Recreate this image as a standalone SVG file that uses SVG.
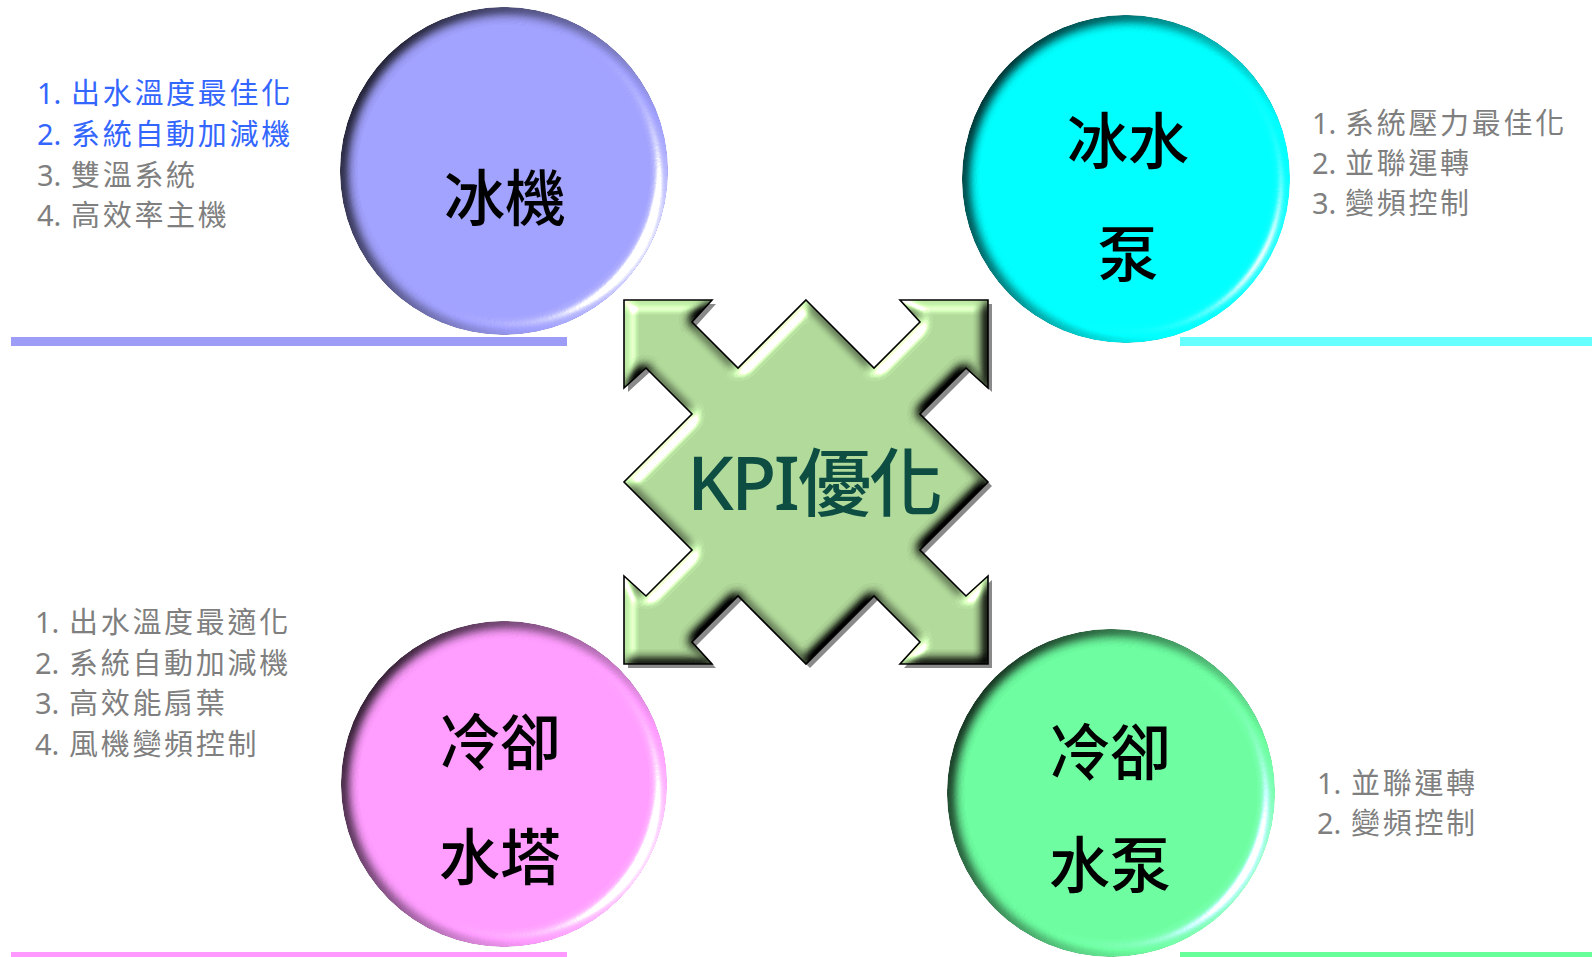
<svg xmlns="http://www.w3.org/2000/svg" width="1592" height="957" viewBox="0 0 1592 957">
  <defs>
    <style>
      .list { font-family: 'Noto Sans', 'Noto Sans CJK TC', sans-serif; font-size: 29px; }
      .cjk { letter-spacing: 2.7px; }
      .blue { fill: #3366ff; }
      .gray { fill: #7f7f7f; }
      .label { font-family: 'Noto Sans CJK TC', 'Noto Sans', sans-serif; font-size: 61px; font-weight: 500; fill: #000; text-anchor: middle; dominant-baseline: central; }
      .kpi { font-family: 'Noto Sans', 'Noto Sans CJK TC', sans-serif; font-size: 74px; font-weight: 500; fill: #0d4d42; dominant-baseline: central; }
      .arrow-outline { stroke: #000; stroke-width: 1.6; stroke-linejoin: miter; }
    </style>
    <!-- pillow bevel for the round buttons, lit from the lower right -->
    <filter id="button" x="-10%" y="-10%" width="120%" height="120%" color-interpolation-filters="sRGB">
      <feGaussianBlur in="SourceAlpha" stdDeviation="7" result="h"/>
      <feDiffuseLighting in="h" surfaceScale="9" diffuseConstant="1" lighting-color="#ffffff" result="d">
        <feDistantLight azimuth="30" elevation="58"/>
      </feDiffuseLighting>
      <feComposite in="SourceGraphic" in2="d" operator="arithmetic" k1="1.18" k2="0" k3="0" k4="0" result="sh"/>
      <feSpecularLighting in="h" surfaceScale="9" specularConstant="0.9" specularExponent="35" lighting-color="#ffffff" result="s">
        <feDistantLight azimuth="30" elevation="32"/>
      </feSpecularLighting>
      <feComposite in="s" in2="SourceAlpha" operator="in" result="s2"/>
      <feComposite in="sh" in2="s2" operator="arithmetic" k1="0" k2="1" k3="1" k4="0" result="o"/>
      <feComposite in="o" in2="SourceAlpha" operator="in"/>
    </filter>
    <!-- bevel for the four-way arrow, lit from the upper left -->
    <filter id="bevel" x="-5%" y="-5%" width="110%" height="110%" color-interpolation-filters="sRGB">
      <feGaussianBlur in="SourceAlpha" stdDeviation="6" result="h"/>
      <feDiffuseLighting in="h" surfaceScale="9" diffuseConstant="1" lighting-color="#ffffff" result="d">
        <feDistantLight azimuth="225" elevation="50"/>
      </feDiffuseLighting>
      <feComposite in="SourceGraphic" in2="d" operator="arithmetic" k1="1.3" k2="0" k3="0" k4="0" result="sh"/>
      <feSpecularLighting in="h" surfaceScale="9" specularConstant="0.7" specularExponent="30" lighting-color="#ffffff" result="s">
        <feDistantLight azimuth="225" elevation="35"/>
      </feSpecularLighting>
      <feComposite in="s" in2="SourceAlpha" operator="in" result="s2"/>
      <feComposite in="sh" in2="s2" operator="arithmetic" k1="0" k2="1" k3="1" k4="0" result="o"/>
      <feComposite in="o" in2="SourceAlpha" operator="in"/>
    </filter>
    <polygon id="cross" points="806,300 874,368 920,322 900,300 988,300 988,388 966,368 920,414 988,482 920,550 966,596 988,576 988,664 900,664 920,642 874,596 806,664 738,596 692,642 712,664 624,664 624,576 646,596 692,550 624,482 692,414 646,368 624,388 624,300 712,300 692,322 738,368"/>
  </defs>

  <rect width="1592" height="957" fill="#ffffff"/>

  <!-- underline bars -->
  <g id="bars">
    <rect x="11" y="337" width="556" height="9" fill="#9d9df7"/>
    <rect x="1180" y="337" width="412" height="9" fill="#66ffff"/>
    <rect x="11" y="952" width="556" height="9" fill="#ff99ff"/>
    <rect x="1180" y="952" width="412" height="9" fill="#66ff99"/>
  </g>

  <!-- chiller -->
  <g id="node-chiller">
    <circle cx="504" cy="171" r="164" fill="#a0a0fd" filter="url(#button)"/>
    <text class="label" x="505" y="194">冰機</text>
  </g>
  <g id="list-chiller" class="list">
    <text class="blue" y="104"><tspan x="37">1.</tspan><tspan class="cjk" x="71">出水溫度最佳化</tspan></text>
    <text class="blue" y="145"><tspan x="37">2.</tspan><tspan class="cjk" x="71">系統自動加減機</tspan></text>
    <text class="gray" y="186"><tspan x="37">3.</tspan><tspan class="cjk" x="71">雙溫系統</tspan></text>
    <text class="gray" y="226"><tspan x="37">4.</tspan><tspan class="cjk" x="71">高效率主機</tspan></text>
  </g>

  <!-- chilled water pump -->
  <g id="node-chw-pump">
    <circle cx="1126" cy="179" r="164" fill="#00ffff" filter="url(#button)"/>
    <text class="label" x="1128" y="137">冰水</text>
    <text class="label" x="1128" y="250">泵</text>
  </g>
  <g id="list-chw-pump" class="list">
    <text class="gray" y="134"><tspan x="1312">1.</tspan><tspan class="cjk" x="1345">系統壓力最佳化</tspan></text>
    <text class="gray" y="174"><tspan x="1312">2.</tspan><tspan class="cjk" x="1345">並聯運轉</tspan></text>
    <text class="gray" y="214"><tspan x="1312">3.</tspan><tspan class="cjk" x="1345">變頻控制</tspan></text>
  </g>

  <!-- cooling tower -->
  <g id="node-tower">
    <circle cx="504" cy="784" r="163" fill="#ff9cff" filter="url(#button)"/>
    <text class="label" x="500" y="738">冷卻</text>
    <text class="label" x="500" y="853">水塔</text>
  </g>
  <g id="list-tower" class="list">
    <text class="gray" y="633"><tspan x="35">1.</tspan><tspan class="cjk" x="69">出水溫度最適化</tspan></text>
    <text class="gray" y="674"><tspan x="35">2.</tspan><tspan class="cjk" x="69">系統自動加減機</tspan></text>
    <text class="gray" y="714"><tspan x="35">3.</tspan><tspan class="cjk" x="69">高效能扇葉</tspan></text>
    <text class="gray" y="755"><tspan x="35">4.</tspan><tspan class="cjk" x="69">風機變頻控制</tspan></text>
  </g>

  <!-- condenser water pump -->
  <g id="node-cw-pump">
    <circle cx="1111" cy="793" r="164" fill="#6cfc9f" filter="url(#button)"/>
    <text class="label" x="1110" y="748">冷卻</text>
    <text class="label" x="1110" y="861">水泵</text>
  </g>
  <g id="list-cw-pump" class="list">
    <text class="gray" y="794"><tspan x="1317">1.</tspan><tspan class="cjk" x="1351">並聯運轉</tspan></text>
    <text class="gray" y="834"><tspan x="1317">2.</tspan><tspan class="cjk" x="1351">變頻控制</tspan></text>
  </g>

  <!-- central four-way arrow -->
  <g id="node-kpi">
    <use href="#cross" transform="translate(4,4)" fill="#8a8a8a"/>
    <use href="#cross" fill="#aed697" filter="url(#bevel)"/>
    <use href="#cross" fill="none" class="arrow-outline"/>
    <text class="kpi" x="687" y="481" textLength="256">KPI優化</text>
  </g>

  <g id="connectors"/>
</svg>
